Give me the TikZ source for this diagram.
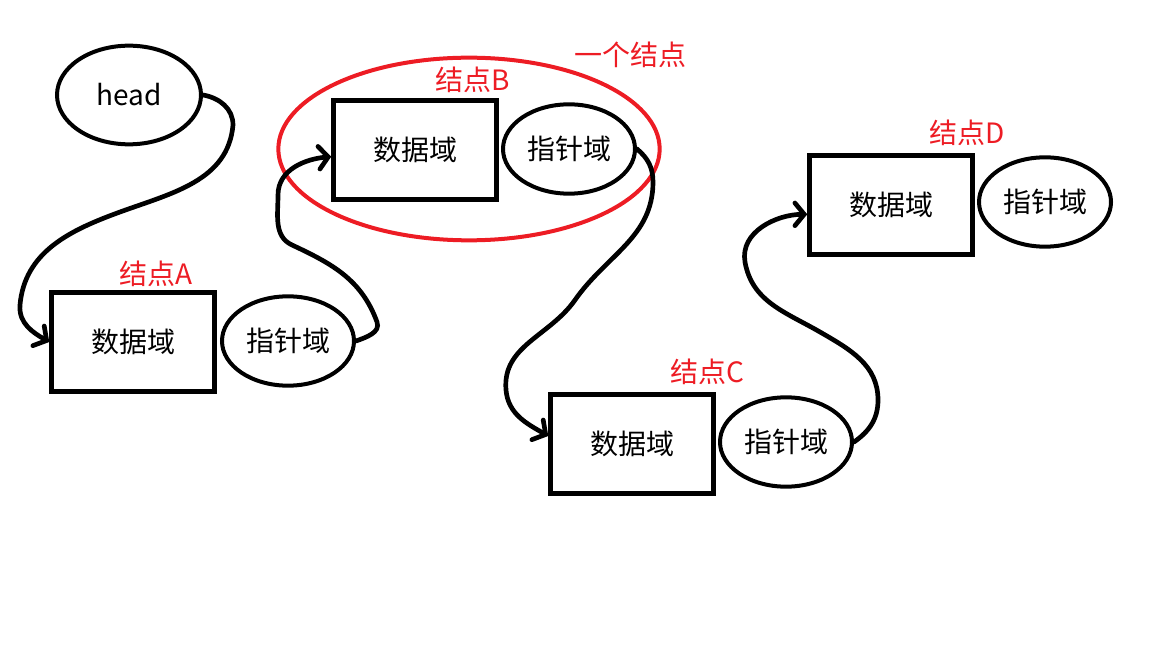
\documentclass[tikz,border=0pt]{standalone}
\usepackage{fontspec}
\setmainfont{Noto Sans CJK SC}
\usepackage{tikz}
\usetikzlibrary{arrows.meta, positioning, shapes.geometric}
\definecolor{paintred}{RGB}{237,28,36}

\begin{document}
\begin{tikzpicture}[x=0.75pt, y=-0.75pt,
  every node/.style={font=\fontsize{21}{25}\selectfont},
  datafield/.style={draw, line width=3.6pt, minimum width=122pt, minimum height=74pt, inner sep=0pt},
  ptrfield/.style={draw, ellipse, line width=3pt, minimum width=99pt, minimum height=67pt, inner sep=0pt},
  tag/.style={text=paintred},
  link/.style={line width=3.5pt, line cap=round, -{Straight Barb[length=7pt, width=17pt, line cap=round]}}]
  \useasboundingbox (0,0) rectangle (1152,648);

  \node[draw, ellipse, line width=3pt, minimum width=108pt, minimum height=74pt, inner sep=0pt] (head) at (129,95) {head};

  % node A
  \node[datafield] (dataA) at (133,342) {数据域};
  \node[ptrfield] (ptrA) at (288,341) {指针域};
  \node[tag] (tagA) at (156,274) {结点A};

  % node B, with the red ring round it
  \node[draw=paintred, ellipse, line width=3pt, minimum width=286pt, minimum height=137pt] (ringB) at (469,149) {};
  \node[datafield] (dataB) at (415,150) {数据域};
  \node[ptrfield] (ptrB) at (569,149) {指针域};
  \node[tag] (tagB) at (473,80) {结点B};
  \node[tag] (tagOne) at (630,55) {一个结点};

  % node C
  \node[datafield] (dataC) at (632,444) {数据域};
  \node[ptrfield] (ptrC) at (786,442) {指针域};
  \node[tag] (tagC) at (707,372) {结点C};

  % node D
  \node[datafield] (dataD) at (891,205) {数据域};
  \node[ptrfield] (ptrD) at (1045,202) {指针域};
  \node[tag] (tagD) at (967,133) {结点D};

  \draw[link] (head.east) to[out=-10,in=90] (233,125) to[out=-95,in=20] (120,212)
    to[out=200,in=85] (20,305) to[out=-95,in=150] (dataA.west);
  \draw[link] (ptrA.east) to[out=20,in=-70] (377,322) to[out=110,in=-25] (292,245)
    to[out=155,in=-90] (278,195) to[out=90,in=185] ([yshift=-5pt]dataB.west);
  \draw[link] (ptrB.east) to[out=-40,in=90] (653,182) to[out=-90,in=55] (575,300)
    to[out=235,in=95] (506,390) to[out=-85,in=150] ([yshift=6pt]dataC.west);
  \draw[link] (ptrC.east) to[out=35,in=-90] (878,400) to[out=90,in=-30] (820,332)
    to[out=150,in=-80] (745,262) to[out=100,in=180] ([yshift=-7pt]dataD.west);
\end{tikzpicture}
\end{document}
